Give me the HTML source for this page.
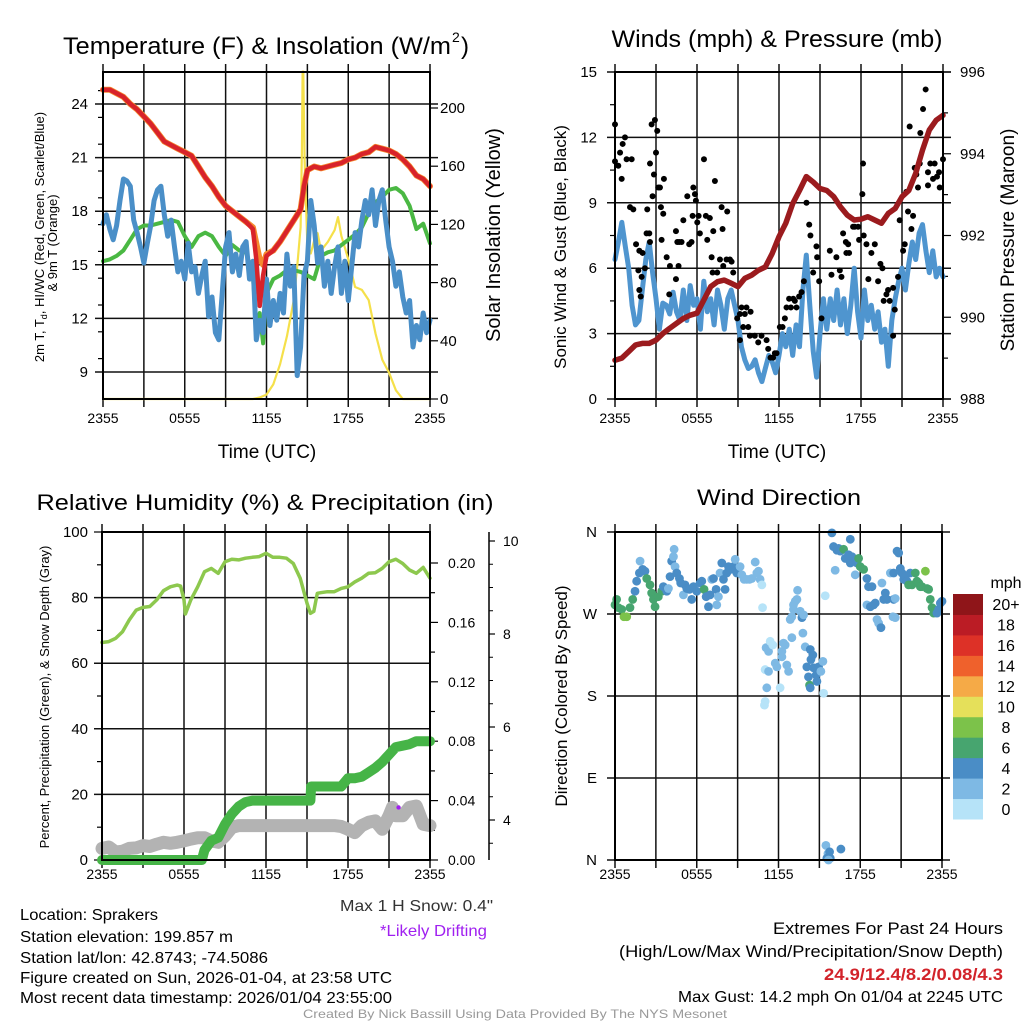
<!DOCTYPE html>
<html><head><meta charset="utf-8"><style>
html,body{margin:0;padding:0;background:#fff;}
svg{display:block;font-family:"Liberation Sans",Arial,sans-serif;}
</style></head><body>
<svg id="c" width="1024" height="1024" viewBox="0 0 1024 1024" xmlns="http://www.w3.org/2000/svg"></svg>
<script>
// ---------- Panel 1 data: temperature & insolation ----------
const redH=[0,0.5,1,1.5,2,2.5,3,3.5,4,4.5,5,5.5,6,6.5,7,7.5,8,8.5,9,9.5,10,10.5,11,11.25,11.5,11.75,12,12.5,13,13.5,14,14.5,14.75,15,15.5,16,16.5,17,17.5,18,18.5,19,19.5,20,20.5,21,21.5,22,22.5,23,23.5,24];
const redT=[24.8,24.8,24.6,24.4,24.0,23.7,23.3,22.9,22.4,21.9,21.7,21.5,21.3,21.1,20.5,19.9,19.4,18.8,18.3,18.0,17.7,17.4,17.0,15.3,12.7,14.4,15.5,15.8,16.3,16.9,17.5,18.1,19.4,20.3,20.5,20.4,20.5,20.6,20.7,20.9,21.0,21.2,21.3,21.6,21.5,21.4,21.2,20.9,20.5,20.0,19.8,19.4];
const orangeT=[24.8,24.8,24.6,24.4,24.0,23.7,23.3,22.9,22.4,21.9,21.7,21.5,21.3,21.1,20.5,19.9,19.4,18.8,18.3,18.0,17.7,17.4,17.1,16.2,15.3,15.0,15.6,15.8,16.3,16.9,17.5,18.1,19.4,20.3,20.5,20.4,20.5,20.6,20.7,20.9,21.0,21.2,21.3,21.6,21.5,21.4,21.2,20.9,20.5,20.0,19.8,19.4];
const greenH=[0,0.5,1,1.5,2,2.5,3,3.5,4,4.5,5,5.5,6,6.5,7,7.5,8,8.5,9,9.5,10,10.5,11,11.25,11.5,11.75,12,12.5,13,13.5,14,14.5,15,15.5,16,16.5,17,17.5,18,18.5,19,19.5,20,20.5,21,21.5,22,22.5,23,23.5,24];
const greenT=[15.2,15.3,15.5,15.8,16.4,17.0,17.2,17.2,17.3,17.4,17.5,17.4,16.6,16.0,16.6,16.8,16.6,16.0,15.5,16.1,15.8,15.7,14.4,11.6,12.3,10.6,13.4,14.2,14.4,14.7,14.7,14.6,14.4,14.2,15.5,15.7,15.8,16.1,16.4,16.7,17.1,17.9,18.5,18.8,19.2,19.3,19.0,18.3,17.0,17.3,16.2];
const blueStep=0.25;
const blueT=[17.3,17.8,17.0,16.4,17.2,18.6,19.8,19.7,19.4,17.5,16.8,16.0,15.1,16.2,17.2,18.6,19.2,19.4,17.8,16.6,17.5,16.0,14.6,15.2,14.2,16.2,14.6,14.9,13.4,14.4,15.2,12.1,13.2,11.2,10.8,13.4,16.0,16.8,14.6,15.6,14.4,16.0,16.3,14.2,15.2,10.8,11.9,11.2,14.2,11.6,13.0,11.9,13.4,12.3,15.6,13.8,14.9,8.8,10.4,14.4,15.2,18.6,17.2,15.1,16.0,13.8,15.2,13.4,14.9,16.0,13.4,15.2,13.0,14.9,16.8,16.0,17.5,18.6,17.8,19.2,17.2,18.6,19.2,17.5,16.0,15.2,13.8,14.6,13.2,12.3,13.0,10.4,11.6,10.8,12.3,11.2,11.9];
const solH=[0,11,11.5,12,12.5,13,13.5,14,14.25,14.5,14.6,14.65,14.7,14.8,15,15.25,15.5,15.75,16,16.5,17,17.25,17.5,18,18.5,19,19.5,20,20.5,21,21.5,22,24];
const solV=[0,0,1,3,10,24,43,68,91,118,170,225,225,164,105,100,109,114,102,108,116,125,112,96,77,75,68,45,27,18,6,0,0];
const tempTicks=[24,21,18,15,12,9];
const solTicks=[0,40,80,120,160,200];
const timeLabels=["2355","0555","1155","1755","2355"];

// ---------- Panel 2 data: winds & pressure ----------
const windStep=0.25;
const windV=[6.4,7.2,8.1,7.0,6.0,4.3,3.4,3.6,5.0,6.4,7.2,5.8,4.6,3.2,4.4,4.3,3.9,4.9,4.0,3.6,5.0,3.6,5.2,4.3,4.6,3.2,5.4,4.0,4.6,3.4,5.0,4.3,3.2,4.6,5.0,4.3,3.6,2.4,1.8,1.4,1.5,1.8,1.2,0.8,1.4,2.0,1.7,1.2,2.0,3.0,2.4,3.2,2.0,3.4,2.4,5.0,6.6,4.3,2.2,1.0,3.0,4.6,3.2,4.6,3.6,5.0,3.4,4.6,3.0,4.3,6.0,4.0,2.8,5.0,3.6,4.3,3.2,4.0,2.6,3.2,1.5,3.6,4.6,5.4,6.0,5.0,6.2,7.2,6.4,7.6,8.0,6.8,5.8,6.8,5.6,6.0,5.6];
const presStep=0.5;
const presV=[988.95,989.0,989.16,989.32,989.36,989.36,989.44,989.6,989.73,989.85,989.97,990.05,990.1,990.42,990.75,990.87,990.91,990.83,990.75,990.95,991.03,991.15,991.23,991.56,991.97,992.3,992.78,993.1,993.44,993.31,993.15,993.1,992.95,992.7,992.5,992.38,992.4,992.46,992.38,992.3,992.54,992.66,992.95,993.1,993.52,994.09,994.58,994.82,994.94];
const gustH=[0,0,0.24,0.37,0.56,0.73,0.49,0.85,1.22,1.1,1.34,1.54,1.78,2.02,1.71,1.95,1.78,1.88,2.19,2.31,2.51,2.56,2.36,2.56,2.68,2.92,3.09,3.0,2.85,2.75,3.17,3.29,3.58,3.36,3.53,3.41,3.78,4.02,3.97,4.46,4.65,4.56,4.7,4.87,5.0,4.46,5.29,5.43,5.6,5.73,5.85,5.92,5.68,6.02,6.12,6.21,6.51,6.65,6.75,6.94,7.19,7.31,7.07,7.14,7.48,7.68,7.8,7.87,7.92,8.21,8.16,8.41,8.53,8.65,8.94,9.14,9.26,9.5,9.62,9.92,9.38,9.75,9.14,9.87,10.23,10.48,10.72,11.09,11.21,11.38,11.57,11.7,11.82,12.06,12.26,12.43,12.55,12.74,12.87,13.04,13.16,13.28,13.47,13.65,13.82,14.01,14.21,14.3,14.5,14.74,14.79,14.94,15.11,15.72,15.84,16.2,16.45,16.57,16.69,16.89,16.93,17.06,17.13,17.42,17.54,17.79,17.86,18.15,18.1,18.2,18.4,18.54,18.76,19.01,19.25,19.42,19.57,19.66,19.86,19.98,20.1,20.35,20.47,20.35,20.71,20.83,21.08,21.2,21.32,21.44,21.56,21.69,21.81,21.93,22.05,22.3,22.34,22.54,22.73,22.9,23.07,23.27,23.39,23.56,23.76,23.71,24.0,22.17,22.9];
const gustV=[12.6,10.9,10.7,11.3,11.7,12.0,10.1,11.0,11.0,8.8,8.7,7.1,6.8,6.7,5.9,5.6,5.0,4.7,6.0,7.6,7.6,7.2,8.7,10.8,12.6,12.8,12.3,11.3,10.3,9.3,9.7,9.7,10.1,8.8,8.5,7.3,6.5,6.1,4.8,5.5,6.1,7.2,7.2,7.2,8.2,7.7,9.3,7.1,7.2,9.7,9.4,9.1,8.4,8.1,8.4,7.6,11.0,8.4,7.3,8.3,7.7,10.0,6.5,5.8,5.8,6.4,8.8,7.8,6.1,8.6,6.4,6.4,6.3,5.8,3.7,3.9,4.2,3.9,4.2,4.0,3.3,3.3,2.7,2.9,2.9,2.6,2.9,2.7,2.3,1.9,1.9,2.1,2.1,3.3,3.3,3.7,4.2,4.6,4.2,4.6,4.5,4.2,4.7,4.9,5.4,9.0,8.0,7.5,5.8,7.0,6.5,5.4,3.7,6.8,5.7,6.5,5.9,5.6,7.6,7.2,6.7,7.1,6.7,7.9,7.9,7.9,7.3,10.8,9.4,7.5,7.1,5.5,6.7,7.1,5.4,6.2,6.0,4.5,4.8,5.0,4.5,5.1,4.1,2.9,5.6,8.2,6.8,7.1,9.5,8.6,12.5,7.8,8.4,10.6,10.3,10.8,12.2,13.3,14.2,10.4,10.8,10.1,10.8,10.2,9.7,10.4,11.0,9.7,9.8];
const windTicks=[0,3,6,9,12,15];
const presTicks=[988,990,992,994,996];

// ---------- Panel 3 data: RH, precip, snow ----------
const rhH=[0,0.5,1,1.5,2,2.5,3,3.5,4,4.5,5,5.5,5.75,6,6.1,6.5,7,7.5,8,8.5,9,9.5,10,10.5,11,11.5,12,12.5,13,13.5,14,14.5,15,15.25,15.5,15.75,16,16.5,17,17.5,18,18.5,19,19.5,20,20.5,21,21.5,22,22.5,23,23.5,24];
const rhV=[66.3,66.6,67.6,69.6,73.2,76.2,77.0,77.3,79.3,82.1,83.3,83.8,83.5,79.3,75.0,79.3,83.3,87.9,88.9,87.4,90.9,91.7,91.5,92.0,92.3,92.5,93.5,92.3,92.3,92.0,90.4,85.9,78.3,75.2,75.8,81.3,81.5,81.8,81.8,82.8,83.3,84.8,85.9,87.4,87.6,88.9,90.9,91.7,90.4,88.4,87.4,89.2,85.9];
const prH=[0,7.3,7.5,8,8.5,9,9.5,10,10.5,11,15.25,15.3,17.5,18,18.5,19,19.5,20,20.5,21,21.5,22,22.5,23,24];
const prV=[0,0,0.0067,0.013,0.015,0.024,0.031,0.036,0.039,0.04,0.04,0.0495,0.0495,0.055,0.055,0.056,0.059,0.062,0.066,0.071,0.076,0.077,0.078,0.08,0.08];
const snH=[0,0.5,1,1.5,2,2.5,3,3.5,4,4.5,5,5.5,6,6.5,7,7.5,8,8.5,9,9.5,10,17,17.5,18,18.5,19,19.5,20,20.5,21,21.25,21.5,22,22.5,23,23.5,24];
const snV=[3.39,3.42,3.31,3.33,3.39,3.4,3.45,3.43,3.48,3.52,3.5,3.52,3.55,3.59,3.62,3.62,3.55,3.52,3.66,3.84,3.88,3.88,3.86,3.8,3.73,3.88,3.95,3.98,3.8,4.09,4.27,4.09,4.09,4.27,4.3,3.91,3.88];
const driftH=[21.7];
const driftV=[4.27];
const rhTicks=[0,20,40,60,80,100];
const prTicks=["0.00","0.04","0.08","0.12","0.16","0.20"];
const snTicks=[4,6,8,10];

// ---------- Panel 4 data: wind direction ----------
const dirH=[0,0.12,0.24,0.49,0.66,0.86,1.1,1.3,1.47,1.59,1.79,1.84,2.03,2.2,2.33,2.57,2.69,2.82,2.94,3.18,3.43,3.55,3.8,3.92,4.04,4.16,4.29,4.34,4.41,4.53,4.73,4.82,5.02,5.14,5.27,5.46,5.63,5.76,6.0,6.25,6.37,6.54,6.69,6.86,6.98,7.1,7.23,7.42,7.47,7.59,7.71,7.84,7.96,8.08,8.2,8.33,8.5,8.69,8.82,8.94,9.18,9.31,9.48,9.67,9.87,10.04,10.29,10.41,10.53,10.65,10.78,10.83,11.09,11.27,11.39,11.58,11.02,11.27,11.14,11.02,10.97,11.76,11.88,12.12,12.25,12.37,12.49,12.25,12.61,12.74,12.86,12.98,13.1,13.23,13.35,13.4,13.1,13.59,13.72,13.84,12.98,13.79,13.96,14.33,14.52,14.38,14.57,14.77,14.94,15.11,15.26,15.31,14.08,14.2,14.28,14.33,14.82,15.43,15.92,16.04,16.16,16.29,16.41,16.53,16.78,16.9,17.14,17.27,17.39,17.27,17.51,17.63,17.76,17.88,18.0,18.25,18.49,18.61,18.86,18.49,18.74,18.98,19.1,19.23,19.35,19.52,19.59,19.72,19.84,19.96,20.21,20.45,20.45,20.57,20.4,20.57,20.7,20.82,20.94,21.06,21.19,21.31,21.43,21.55,21.67,21.8,22.04,22.16,22.29,22.41,22.53,22.78,22.9,23.02,23.14,23.27,23.39,23.51,23.63,23.76,23.88,24.0,15.48,15.63,15.75,15.55,15.8,15.67,16.58];
const dirV=[280,286,277,275,267,267,277,286,295,306,315,328,319,317,309,302,293,286,278,289,295,300,295,298,311,328,333,341,322,315,309,304,291,302,298,297,286,300,295,304,306,297,289,278,291,308,309,297,280,289,315,326,308,297,315,322,319,322,330,315,322,313,308,308,308,309,327,315,317,308,302,277,233,229,240,236,209,207,189,174,170,216,212,189,229,238,236,223,214,207,264,267,280,284,286,296,275,273,266,269,244,249,234,231,225,220,211,203,212,207,218,183,212,201,192,189,196,290,359,344,318,340,342,339,341,331,335,352,333,326,330,313,326,331,322,319,309,300,300,280,278,280,282,264,260,255,304,286,293,286,315,315,286,287,267,266,339,337,320,315,308,311,306,302,315,302,315,306,304,300,300,317,298,297,286,277,271,273,271,275,282,284,16,7,9,2,2,0,12];
const dirS=[7,7,7,7,9,9,7,7,5,5,5,3,5,5,7,7,7,7,7,7,7,5,5,3,5,5,3,3,3,5,5,5,3,5,5,5,5,5,5,5,5,7,5,5,5,3,5,5,3,3,3,5,5,5,5,5,5,5,3,5,3,3,3,3,3,3,3,3,3,3,1,1,3,3,1,1,1,3,3,1,1,3,3,1,3,3,3,3,3,3,3,3,3,3,3,3,3,3,5,3,3,3,3,5,5,5,5,5,5,3,3,1,5,5,7,5,5,1,5,5,3,5,5,5,7,5,5,5,5,5,5,3,5,7,7,7,5,5,5,3,5,5,5,3,3,5,3,5,5,5,3,5,5,3,3,3,5,5,5,5,5,5,5,7,5,7,7,7,7,7,7,9,7,7,7,7,7,7,5,5,5,5,3,3,5,5,5,3,5];
const dirLabels=["N","E","S","W","N"];
const speedBins=["0","2","4","6","8","10","12","14","16","18","20+"];
const speedColors=["#b6e3f8","#7eb9e4","#4a8dc6","#47a56f","#7cc24a","#e5e05a","#f5aa47","#ef612c","#dd3127","#bb1c25","#8f1519"];

// ---------- drawing helpers ----------
const NS="http://www.w3.org/2000/svg";
const svg=document.getElementById('c');
function lin(d0,d1,r0,r1){return v=>r0+(v-d0)*(r1-r0)/(d1-d0);}
function mk(tag,attrs,parent){const e=document.createElementNS(NS,tag);for(const k in attrs)e.setAttribute(k,attrs[k]);(parent||svg).appendChild(e);return e;}
function txt(s,x,y,size,anchor,opt){opt=opt||{};const t=mk('text',{x:x,y:y,'font-size':size,'text-anchor':anchor||'start',fill:opt.fill||'#000'});
 if(opt.w){t.setAttribute('textLength',opt.w);t.setAttribute('lengthAdjust','spacingAndGlyphs');}
 if(opt.bold)t.setAttribute('font-weight','bold');
 if(opt.rot)t.setAttribute('transform','rotate('+opt.rot+' '+x+' '+y+')');
 t.textContent=s;return t;}
function poly(xs,ys,color,w,name,parent){const pts=xs.map((x,i)=>x.toFixed(1)+','+ys[i].toFixed(1)).join(' ');
 const p=mk('polyline',{points:pts,fill:'none',stroke:color,'stroke-width':w,'stroke-linejoin':'round','stroke-linecap':'round'},parent);
 
 
 return p;}
function frame(L,R,T,B,name){
 const g=mk('g',{});
 
 
 return g;}
function vgrid(g,xf,T,B){for(let h=0;h<=24;h+=3){const x=xf(h);mk('line',{x1:x,x2:x,y1:T-8,y2:B+8,stroke:'#111','stroke-width':1.5},g);}}
function hgrid(g,ys,L,R,extL,extR){ys.forEach(y=>mk('line',{x1:L-extL,x2:R+extR,y1:y,y2:y,stroke:'#111','stroke-width':1.5},g));}
function box(g,L,R,T,B){mk('rect',{x:L,y:T,width:R-L,height:B-T,fill:'none',stroke:'#000','stroke-width':2},g);}
function xlabels(xf,y){timeLabels.forEach((s,i)=>{const t=txt(s,xf(i*6),y,14,'middle');
 
 });}

// ================= Panel 1 =================
const x1=lin(0,24,103,430), yT=lin(24,9,104,372), yS=lin(0,200,399,108);
{const g=frame(103,430,72,399,'temperature-panel');
 vgrid(g,x1,72,399);
 hgrid(g,tempTicks.map(yT),103,430,8,8);
 for(let v=9.75;v<25.5;v+=1.5){const y=yT(v);if(y>72&&y<399)mk('line',{x1:98,x2:103,y1:y,y2:y,stroke:'#000','stroke-width':1.2},g);}
 solTicks.forEach(v=>mk('line',{x1:430,x2:438,y1:yS(v),y2:yS(v),stroke:'#000','stroke-width':1.2},g));
 poly(solH.map(x1),solV.map(yS),'#f5e04a',2.2,'insolation-line');
 poly(greenH.map(x1),greenT.map(yT),'#4ab843',4,'heat-index-line');
 poly(blueT.map((v,i)=>x1(i*blueStep)),blueT.map(yT),'#4a8fc8',5,'dewpoint-line');
 poly(redH.map(x1),orangeT.map(yT),'#f58a2e',6,'temp-9m-line');
 poly(redH.map(x1),redT.map(yT),'#d8232a',4.5,'temp-2m-line');
 const g2=mk('g',{});
 box(g2,103,430,72,399);
 tempTicks.forEach(v=>{const t=txt(String(v),88,yT(v)+5,15,'end');});
 solTicks.forEach(v=>{const t=txt(String(v),440,yS(v)+5,15,'start');});
 xlabels(x1,423);
}
{let t=txt('Temperature (F) & Insolation (W/m',63,54,24,'start',{w:388});
 t=txt('2',452,42,14,'start');
 t=txt(')',461,54,24,'start');
 t=txt('Time (UTC)',267,458,19,'middle');
 t=txt('Solar Insolation (Yellow)',500,235,20,'middle',{rot:-90});
 t=mk('text',{x:44,y:237,'font-size':13,'text-anchor':'middle',transform:'rotate(-90 44 237)'});
 t.innerHTML='2m T, T<tspan font-size="9" dy="3">d</tspan><tspan dy="-3">, HI/WC (Red, Green, Scarlet/Blue)</tspan>';
 
 t=txt('& 9m T (Orange)',57,243,13,'middle',{rot:-90});
}

// ================= Panel 2 =================
const x2=lin(0,24,615,943), yW=lin(0,15,399,72), yP=lin(988,996,399,72);
{const g=frame(615,943,72,399,'wind-panel');
 vgrid(g,x2,72,399);
 hgrid(g,windTicks.map(yW),615,943,8,8);
 for(let v=1.5;v<15;v+=3){mk('line',{x1:610,x2:615,y1:yW(v),y2:yW(v),stroke:'#000','stroke-width':1.2},g);}
 for(let v=989;v<996;v+=2){mk('line',{x1:943,x2:948,y1:yP(v),y2:yP(v),stroke:'#000','stroke-width':1.2},g);}
 presTicks.forEach(v=>mk('line',{x1:943,x2:951,y1:yP(v),y2:yP(v),stroke:'#000','stroke-width':1.2},g));
 poly(windV.map((v,i)=>x2(i*windStep)),windV.map(yW),'#4f95cf',5,'sonic-wind-line');
 const gd=mk('g',{});
 gustH.forEach((h,i)=>{const c=mk('circle',{cx:x2(h),cy:yW(gustV[i]),r:3,fill:'#000'},gd);
  
  });
 poly(presV.map((v,i)=>x2(i*presStep)),presV.map(yP),'#9b1b1e',5.5,'pressure-line');
 const g2=mk('g',{});
 box(g2,615,943,72,399);
 windTicks.forEach(v=>{const t=txt(String(v),597,yW(v)+5,15,'end');});
 presTicks.forEach(v=>{const t=txt(String(v),960,yP(v)+5,15,'start');});
 xlabels(x2,423);
}
{let t=txt('Winds (mph) & Pressure (mb)',777,47,24,'middle',{w:331});
 t=txt('Time (UTC)',777,458,19,'middle');
 t=txt('Sonic Wind & Gust (Blue, Black)',566,247,17,'middle',{rot:-90});
 t=txt('Station Pressure (Maroon)',1014,240,19,'middle',{rot:-90});
}

// ================= Panel 3 =================
const x3=lin(0,24,102,430), yRH=lin(0,100,860,532), yPr=lin(0,0.2,860,563), ySn=lin(4,10,820,541);
{const g=frame(102,430,532,860,'humidity-panel');
 vgrid(g,x3,532,860);
 hgrid(g,[20,40,60,80].map(yRH),102,430,8,0);
 [0,100].forEach(v=>mk('line',{x1:94,x2:102,y1:yRH(v),y2:yRH(v),stroke:'#000','stroke-width':1.2},g));
 for(let v=10;v<100;v+=20)mk('line',{x1:97,x2:102,y1:yRH(v),y2:yRH(v),stroke:'#000','stroke-width':1.2},g);
 prTicks.forEach(s=>mk('line',{x1:430,x2:438,y1:yPr(+s),y2:yPr(+s),stroke:'#000','stroke-width':1.2},g));
 for(let v=0.02;v<0.22;v+=0.04)mk('line',{x1:430,x2:435,y1:yPr(v),y2:yPr(v),stroke:'#000','stroke-width':1.2},g);
 mk('line',{x1:489,x2:489,y1:532,y2:860,stroke:'#000','stroke-width':1.5},g);
 snTicks.forEach(v=>mk('line',{x1:489,x2:495,y1:ySn(v),y2:ySn(v),stroke:'#000','stroke-width':1.2},g));
 for(let v=3.5;v<10.5;v+=0.5){if(v%2)mk('line',{x1:489,x2:493,y1:ySn(v),y2:ySn(v),stroke:'#000','stroke-width':1},g);}
 poly(snH.map(x3),snV.map(ySn),'#b3b3b3',13,'snow-depth-line');
 poly(prH.map(x3),prV.map(yPr),'#46b447',10,'precip-line');
 poly(rhH.map(x3),rhV.map(yRH),'#8dc84e',3.5,'rh-line');
 driftH.forEach((h,i)=>{const c=mk('circle',{cx:x3(h),cy:ySn(driftV[i]),r:2.2,fill:'#a020f0'});
  
  });
 const g2=mk('g',{});
 box(g2,102,430,532,860);
 rhTicks.forEach(v=>{const t=txt(String(v),88,yRH(v)+5,15,'end');});
 prTicks.forEach(s=>{const t=txt(s,448,yPr(+s)+5,14,'start');});
 snTicks.forEach(v=>{const t=txt(String(v),503,ySn(v)+5,14,'start');});
 xlabels(x3,879);
}
{let t=txt('Relative Humidity (%) & Precipitation (in)',265,510,22,'middle',{w:457});
 t=txt('Percent, Precipitation (Green), & Snow Depth (Gray)',49,697,13,'middle',{rot:-90});
}

// ================= Panel 4 =================
const x4=lin(0,24,615,942), yD=lin(0,360,860,532);
{const g=frame(615,942,532,860,'direction-panel');
 vgrid(g,x4,532,860);
 hgrid(g,[0,90,180,270,360].map(yD),615,942,8,8);
 const gd=mk('g',{});
 dirH.forEach((h,i)=>{const bin=Math.min(10,Math.floor(dirS[i]/2));
  const c=mk('circle',{cx:x4(h),cy:yD(dirV[i]),r:4.4,fill:speedColors[bin]},gd);
  
  });
 const g2=mk('g',{});
 box(g2,615,942,532,860);
 dirLabels.forEach((s,i)=>{const t=txt(s,597,yD(i*90)+5,15,'end');});
 xlabels(x4,879);
 const cb=mk('g',{});
 const bh=225/speedBins.length;
 speedBins.forEach((s,i)=>{const y=819-(i+1)*bh;
  const r=mk('rect',{x:953,y:y,width:30,height:bh+0.5,fill:speedColors[i]},cb);
  
  
  const t=txt(s,1006,y+bh/2+6,16,'middle');
  
  });
 const t=txt('mph',1006,588,16,'middle');
}
{let t=txt('Wind Direction',779,505,22,'middle',{w:164});
 t=txt('Direction (Colored By Speed)',567,696,17,'middle',{rot:-90});
}

// ================= Footer text =================
{const L=[["Location: Sprakers",920,138,'location-text'],["Station elevation: 199.857 m",942,213,'elevation-text'],["Station lat/lon: 42.8743; -74.5086",963,248,'latlon-text'],["Figure created on Sun, 2026-01-04, at 23:58 UTC",983,372,'created-text'],["Most recent data timestamp: 2026/01/04 23:55:00",1003,372,'timestamp-text']];
 L.forEach(a=>{const t=txt(a[0],20,a[1],16,'start',{w:a[2]});});
 let t=txt('Max 1 H Snow: 0.4"',493,911,16,'end',{w:153,fill:'#333'});
 t=txt('*Likely Drifting',487,936,16,'end',{w:107,fill:'#a020f0'});
 t=txt('Extremes For Past 24 Hours',1003,934,17,'end',{w:230});
 t=txt('(High/Low/Max Wind/Precipitation/Snow Depth)',1003,957,17,'end',{w:384});
 t=txt('24.9/12.4/8.2/0.08/4.3',1003,980,17,'end',{w:179,bold:true,fill:'#d2232a'});
 t=txt('Max Gust: 14.2 mph On 01/04 at 2245 UTC',1003,1002,16,'end',{w:325});
 t=txt('Created By Nick Bassill Using Data Provided By The NYS Mesonet',515,1018,12,'middle',{w:424,fill:'#999'});
}
</script>
</body></html>
